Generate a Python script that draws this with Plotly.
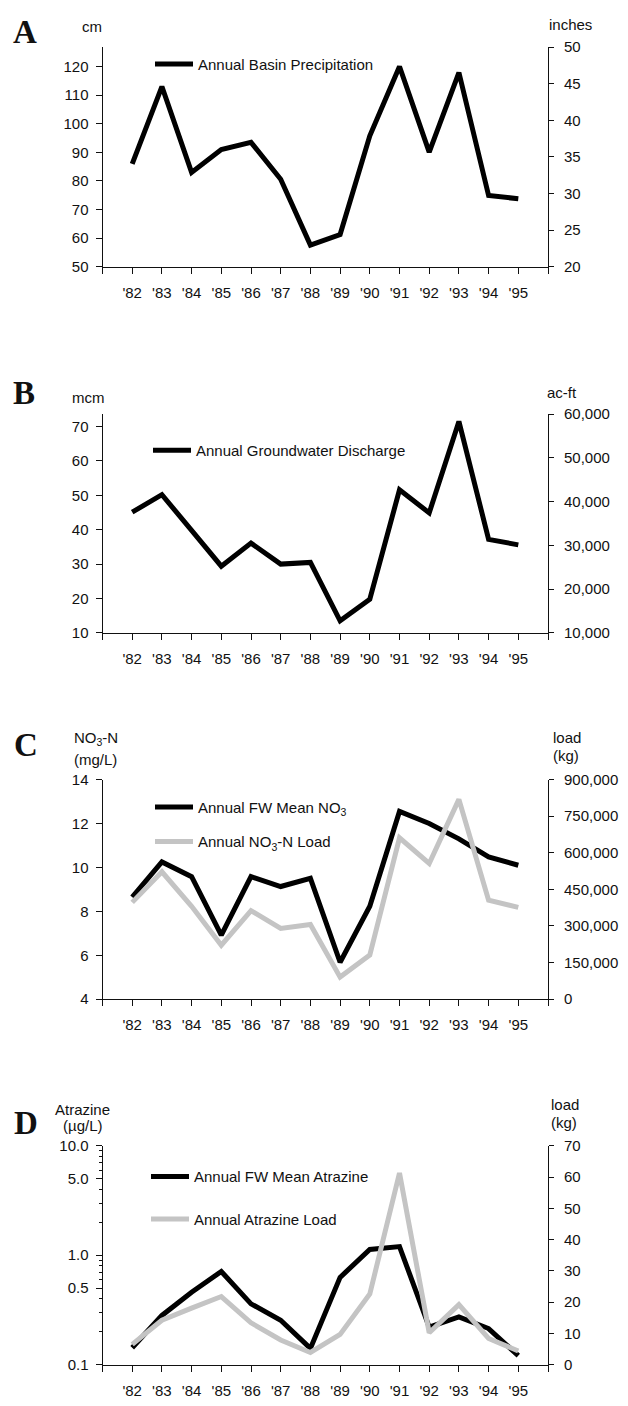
import plotly.graph_objects as go

# ---- data -------------------------------------------------------------
years = [82, 83, 84, 85, 86, 87, 88, 89, 90, 91, 92, 93, 94, 95]
year_labels = ["'82", "'83", "'84", "'85", "'86", "'87", "'88", "'89",
               "'90", "'91", "'92", "'93", "'94", "'95"]

precip_cm = [86, 113, 83, 91, 93.5, 80.6, 57.6, 61.3, 95.8, 120, 90.1, 117.9, 74.9, 73.8]
gw_discharge_mcm = [45.1, 50.2, 39.8, 29.4, 36.1, 30.0, 30.5, 13.5, 19.8, 51.6, 44.9, 71.5, 37.2, 35.6]
no3_mean_mgl = [8.65, 10.25, 9.58, 6.92, 9.58, 9.13, 9.50, 5.68, 8.23, 12.55, 12.0, 11.30, 10.48, 10.10]
no3_load_kg = [396700, 522000, 380500, 221300, 363000, 290000, 306300, 90400, 180800,
               661000, 556000, 819000, 406000, 376000]
atrazine_mean_ugl = [0.143, 0.282, 0.459, 0.711, 0.360, 0.255, 0.141, 0.628, 1.13, 1.20,
                     0.221, 0.273, 0.214, 0.121]
atrazine_load_kg = [6.5, 14.2, 18.1, 21.8, 13.4, 7.9, 3.9, 9.7, 22.6, 61.3, 10.2, 19.2, 8.4, 4.4]

# ---- page geometry (pixels -> paper fractions) ------------------------
W, H = 628, 1406
FONT = "Liberation Sans, Arial, Helvetica, sans-serif"
SERIF = "Liberation Serif, Times New Roman, serif"
INK = "#111111"
GRAY = "#c4c4c4"


def fx(px):
    return px / W


def fy(py):
    return 1 - py / H


x_dom = [fx(102.5), fx(548)]
panels = {  # top, bottom in pixels
    "A": (38.5, 261.0),
    "B": (410.0, 631.5),
    "C": (780.0, 1002.3),
    "D": (1150.7, 1372.3),
}


def ydom(key):
    top, bot = panels[key]
    return [fy(bot), fy(top)]


tick_font = dict(family=FONT, size=15, color=INK)


def xaxis_cfg(anchor):
    # labelled ticks on each year, plus unlabelled end ticks at the frame edges
    return dict(domain=x_dom, anchor=anchor, range=[81, 96],
                tickmode="array", tickvals=years, ticktext=year_labels,
                ticks="outside", ticklen=6, tickwidth=1, tickcolor=INK,
                minor=dict(tickmode="array", tickvals=[81, 96], ticks="outside",
                           ticklen=6, tickwidth=1, tickcolor=INK),
                showline=True, linecolor=INK, linewidth=1,
                showgrid=False, zeroline=False, tickfont=tick_font,
                ticklabelstandoff=6, fixedrange=True)


def yleft_cfg(key, anchor, rng, tickvals, ticktext=None, **kw):
    d = dict(domain=ydom(key), anchor=anchor, range=rng, side="left",
             tickmode="array", tickvals=tickvals,
             ticks="outside", ticklen=6, tickwidth=1, tickcolor=INK,
             showline=True, linecolor=INK, linewidth=1,
             showgrid=False, zeroline=False, tickfont=tick_font,
             ticklabelstandoff=4)
    if ticktext is not None:
        d["ticktext"] = ticktext
    d.update(kw)
    return d


def yright_cfg(overlay, anchor, rng, tickvals, fmt=None):
    d = dict(overlaying=overlay, anchor=anchor, side="right", range=rng,
             tickmode="array", tickvals=tickvals,
             ticks="outside", ticklen=5, tickwidth=1, tickcolor=INK,
             showline=True, linecolor=INK, linewidth=1,
             showgrid=False, zeroline=False, tickfont=tick_font,
             ticklabelstandoff=7)
    if fmt:
        d["tickformat"] = fmt
    return d


fig = go.Figure()

line_black = dict(color="#000000", width=5)
line_gray = dict(color=GRAY, width=5)

# A: precipitation (cm on the left, inches scale on the right)
fig.add_trace(go.Scatter(x=years, y=precip_cm, mode="lines", line=line_black,
                         name="Annual Basin Precipitation",
                         xaxis="x", yaxis="y", legend="legend"))
fig.add_trace(go.Scatter(x=[], y=[], mode="lines", showlegend=False,
                         hoverinfo="skip", xaxis="x", yaxis="y2"))
# B: groundwater discharge (mcm on the left, acre-feet scale on the right)
fig.add_trace(go.Scatter(x=years, y=gw_discharge_mcm, mode="lines", line=line_black,
                         name="Annual Groundwater Discharge",
                         xaxis="x2", yaxis="y3", legend="legend2"))
fig.add_trace(go.Scatter(x=[], y=[], mode="lines", showlegend=False,
                         hoverinfo="skip", xaxis="x2", yaxis="y4"))
# C: nitrate
fig.add_trace(go.Scatter(x=years, y=no3_mean_mgl, mode="lines", line=line_black,
                         name="Annual FW Mean NO<sub>3</sub>",
                         xaxis="x3", yaxis="y5", legend="legend3"))
fig.add_trace(go.Scatter(x=years, y=no3_load_kg, mode="lines", line=line_gray,
                         name="Annual NO<sub>3</sub>-N Load",
                         xaxis="x3", yaxis="y6", legend="legend4"))
# D: atrazine
fig.add_trace(go.Scatter(x=years, y=atrazine_mean_ugl, mode="lines", line=line_black,
                         name="Annual FW Mean Atrazine",
                         xaxis="x4", yaxis="y7", legend="legend5"))
fig.add_trace(go.Scatter(x=years, y=atrazine_load_kg, mode="lines", line=line_gray,
                         name="Annual Atrazine Load",
                         xaxis="x4", yaxis="y8", legend="legend6"))

log_minor = [0.2, 0.3, 0.4, 0.6, 0.7, 0.8, 0.9, 2, 3, 4, 6, 7, 8, 9]

fig.update_layout(
    width=W, height=H,
    margin=dict(l=0, r=0, t=0, b=0),
    paper_bgcolor="white", plot_bgcolor="white",
    font=dict(family=FONT, size=15, color=INK),
    showlegend=True,
    xaxis=xaxis_cfg("y"),
    xaxis2=xaxis_cfg("y3"),
    xaxis3=xaxis_cfg("y5"),
    xaxis4=xaxis_cfg("y7"),
    yaxis=yleft_cfg("A", "x", [50, 126.8], list(range(50, 121, 10))),
    yaxis2=yright_cfg("y", "x", [20, 50], list(range(20, 51, 5))),
    yaxis3=yleft_cfg("B", "x2", [10, 73.65], list(range(10, 71, 10))),
    yaxis4=yright_cfg("y3", "x2", [10000, 60000], list(range(10000, 60001, 10000)), ",d"),
    yaxis5=yleft_cfg("C", "x3", [4, 14], list(range(4, 15, 2))),
    yaxis6=yright_cfg("y5", "x3", [0, 900000], list(range(0, 900001, 150000)), ",d"),
    yaxis7=yleft_cfg("D", "x4", [-1, 1], [0.1, 0.5, 1, 5, 10],
                     ["0.1", "0.5", "1.0", "5.0", "10.0"], type="log",
                     minor=dict(tickmode="array", tickvals=log_minor,
                                ticks="outside", ticklen=3, tickcolor=INK)),
    yaxis8=yright_cfg("y7", "x4", [0, 70], list(range(0, 71, 10))),
)

# one legend per series, each sitting inside its panel
leg_base = dict(xanchor="left", yanchor="middle", bgcolor="rgba(0,0,0,0)",
                borderwidth=0, font=dict(family=FONT, size=15, color=INK),
                itemwidth=38)
legend_pos = {
    "legend": (150, 56),
    "legend2": (148, 447),
    "legend3": (150, 808),
    "legend4": (150, 843),
    "legend5": (146, 1182),
    "legend6": (146, 1225),
}
for name, (lx, ly) in legend_pos.items():
    fig.update_layout({name: dict(leg_base, x=fx(lx), y=fy(ly))})

# panel letters and axis unit captions
serif_font = dict(family=SERIF, size=33, color=INK)
notes = [
    ("<b>A</b>", 25, 23, "center", serif_font),
    ("<b>B</b>", 24, 389, "center", serif_font),
    ("<b>C</b>", 26, 745, "center", serif_font),
    ("<b>D</b>", 25.5, 1128, "center", serif_font),
    ("cm", 92, 18, "center", tick_font),
    ("inches", 547, 16, "left", tick_font),
    ("mcm", 88.5, 393, "center", tick_font),
    ("ac-ft", 545, 388, "left", tick_font),
    ("NO<sub>3</sub>-N", 72, 738, "left", tick_font),
    ("(mg/L)", 72, 760, "left", tick_font),
    ("load", 551, 737, "left", tick_font),
    ("(kg)", 551, 756, "left", tick_font),
    ("Atrazine", 82, 1114, "center", tick_font),
    ("(µg/L)", 82.5, 1130, "center", tick_font),
    ("load", 549, 1109, "left", tick_font),
    ("(kg)", 549, 1127, "left", tick_font),
]
for text, px, py, anchor, font in notes:
    fig.add_annotation(text=text, x=fx(px), y=fy(py), xref="paper", yref="paper",
                       xanchor=anchor, yanchor="middle", showarrow=False,
                       font=font)

fig.write_html("out.html")
